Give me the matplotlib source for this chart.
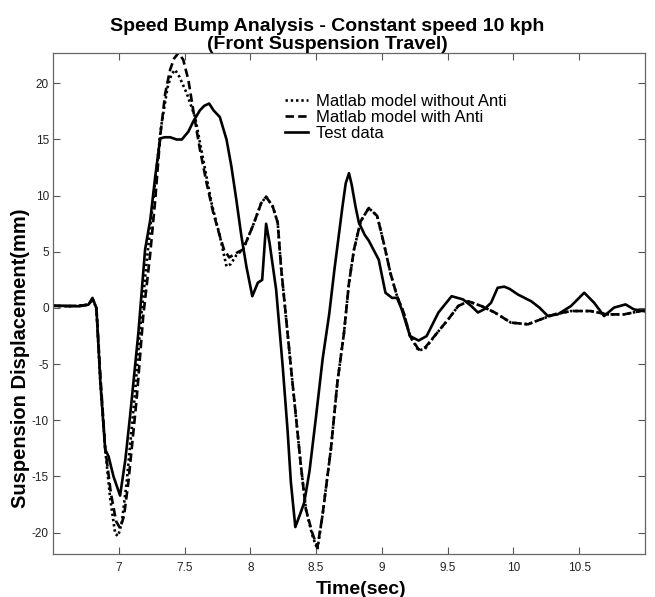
import matplotlib
matplotlib.use("Agg")
import matplotlib.pyplot as plt

# ---------------- data ----------------
t_noanti = [6.5, 6.6, 6.7, 6.77, 6.8, 6.83, 6.86, 6.897, 6.935, 6.973, 6.995, 7.023,
            7.06, 7.12, 7.17, 7.22, 7.27, 7.32, 7.37, 7.40, 7.428, 7.46, 7.517, 7.58,
            7.642, 7.705, 7.768, 7.819, 7.85, 7.894, 7.944, 8.019, 8.083, 8.12, 8.17,
            8.208, 8.233, 8.27, 8.308, 8.346, 8.384, 8.422, 8.47, 8.51, 8.548, 8.612,
            8.662, 8.712, 8.75, 8.788, 8.838, 8.9, 8.964, 9.014, 9.065, 9.115, 9.165,
            9.214, 9.279, 9.33, 9.40, 9.505, 9.58, 9.656, 9.757, 9.858, 9.98, 10.11,
            10.21, 10.31, 10.437, 10.587, 10.71, 10.84, 10.965, 11.0]
v_noanti = [0.2, 0.15, 0.2, 0.3, 0.8, 0.0, -6.6, -12.6, -17.0, -20.1, -20.3, -19.1,
            -15.5, -8.0, -0.8, 5.0, 10.5, 16.0, 19.6, 20.8, 21.2, 20.6, 19.1, 17.0,
            13.2, 9.35, 6.4, 3.7, 3.9, 4.7, 5.2, 7.3, 9.35, 9.9, 9.05,
            7.6, 3.7, -0.7, -5.2, -9.6, -14.0, -17.9, -20.2, -21.5, -18.5, -12.6,
            -6.6, -2.2, 2.25, 5.2, 7.7, 8.9, 8.2, 5.8, 3.1, 1.06, -0.4,
            -2.5, -3.8, -3.6, -2.5, -1.0, 0.17, 0.6, 0.17, -0.4, -1.3, -1.45,
            -1.0, -0.57, -0.27, -0.27, -0.57, -0.57, -0.27, -0.2]

t_anti = [6.5, 6.6, 6.7, 6.77, 6.8, 6.83, 6.86, 6.897, 6.94, 6.98, 7.01, 7.04,
          7.073, 7.136, 7.186, 7.237, 7.277, 7.315, 7.353, 7.39, 7.42, 7.453, 7.49,
          7.529, 7.566, 7.617, 7.668, 7.718, 7.768, 7.8, 7.84, 7.894, 7.944, 8.019,
          8.083, 8.12, 8.17, 8.208, 8.233, 8.27, 8.308, 8.346, 8.384, 8.422, 8.47,
          8.51, 8.548, 8.612, 8.662, 8.712, 8.75, 8.788, 8.838, 8.9, 8.964, 9.014,
          9.065, 9.115, 9.165, 9.214, 9.279, 9.33, 9.40, 9.505, 9.58, 9.656, 9.757,
          9.858, 9.98, 10.11, 10.21, 10.31, 10.437, 10.587, 10.71, 10.84, 10.965, 11.0]
v_anti = [0.2, 0.15, 0.2, 0.3, 0.8, 0.0, -6.0, -12.5, -16.5, -19.0, -19.6, -18.5,
          -15.5, -8.1, -0.7, 4.6, 9.6, 15.3, 19.1, 21.2, 22.2, 22.7, 22.1,
          20.3, 17.6, 14.1, 11.1, 8.5, 6.4, 5.2, 4.5, 4.9, 5.2, 7.3,
          9.35, 9.9, 9.05, 7.6, 3.7, -0.7, -5.2, -9.6, -14.0, -17.9, -20.0,
          -21.3, -18.5, -12.6, -6.6, -2.2, 2.25, 5.2, 7.7, 8.9, 8.2, 5.8,
          3.1, 1.06, -0.4, -2.5, -3.7, -3.5, -2.5, -1.0, 0.17, 0.6, 0.17,
          -0.4, -1.3, -1.45, -1.0, -0.57, -0.27, -0.27, -0.57, -0.57, -0.27, -0.2]

t_test = [6.5, 6.6, 6.7, 6.77, 6.8, 6.83, 6.86, 6.897, 6.922, 6.96, 7.01, 7.05,
          7.086, 7.149, 7.2, 7.24, 7.277, 7.315, 7.35, 7.39, 7.44, 7.479, 7.529,
          7.566, 7.617, 7.65, 7.687, 7.72, 7.768, 7.819, 7.856, 7.894, 7.932, 7.97,
          8.015, 8.057, 8.09, 8.12, 8.146, 8.196, 8.246, 8.284, 8.308, 8.342, 8.38,
          8.41, 8.45, 8.498, 8.55, 8.6, 8.64, 8.675, 8.70, 8.725, 8.75, 8.77, 8.80,
          8.825, 8.87, 8.90, 8.976, 9.027, 9.077, 9.115, 9.15, 9.214, 9.279, 9.34,
          9.43, 9.53, 9.617, 9.68, 9.73, 9.78, 9.83, 9.88, 9.93, 9.971, 10.034,
          10.135, 10.198, 10.26, 10.336, 10.437, 10.538, 10.613, 10.689, 10.764,
          10.852, 10.915, 11.0]
v_test = [0.2, 0.2, 0.15, 0.3, 0.9, 0.0, -6.6, -12.6, -13.2, -15.0, -16.7, -13.5,
          -9.6, -2.2, 5.2, 7.9, 11.7, 15.1, 15.2, 15.2, 15.0, 15.0, 15.7,
          16.6, 17.6, 18.0, 18.2, 17.6, 17.0, 15.0, 12.6, 9.6, 6.4, 3.7,
          1.05, 2.25, 2.5, 7.5, 5.8, 1.65, -5.2, -11.05, -15.5, -19.5, -18.3,
          -17.3, -14.5, -9.8, -4.5, -0.5, 3.5, 6.7, 9.0, 11.1, 12.0, 11.0, 9.0,
          7.6, 6.5, 6.0, 4.3, 1.36, 0.9, 0.9, -0.1, -2.5, -2.9, -2.5,
          -0.4, 1.05, 0.76, 0.17, -0.4, -0.1, 0.47, 1.8, 1.9, 1.7, 1.2,
          0.6, 0.03, -0.7, -0.57, 0.17, 1.36, 0.47, -0.72, 0.03,
          0.32, -0.12, -0.3]

series_labels = ["Matlab model without Anti", "Matlab model with Anti", "Test data"]
x_ticks = [7, 7.5, 8, 8.5, 9, 9.5, 10, 10.5]
x_ticklabels = ["7", "7.5", "8", "8.5", "9", "9.5", "10", "10.5"]
y_ticks = [-20, -15, -10, -5, 0, 5, 10, 15, 20]
y_ticklabels = ["-20", "-15", "-10", "-5", "0", "5", "10", "15", "20"]

# ---------------- figure ----------------
plt.rcParams['font.family'] = ['Liberation Sans', 'DejaVu Sans']

fig = plt.figure(figsize=(6.55, 5.97), dpi=100)
ax = fig.add_axes([53/655, 1 - 554/597, (645-53)/655, (554-53)/597])

lw = 1.9
l1, = ax.plot(t_noanti, v_noanti, color='black', lw=lw, linestyle=(0, (0.9, 1.1)),
              dash_capstyle='butt', label=series_labels[0])
l2, = ax.plot(t_anti, v_anti, color='black', lw=lw, linestyle=(0, (3.2, 1.6)),
              dash_capstyle='butt', label=series_labels[1])
l3, = ax.plot(t_test, v_test, color='black', lw=lw, linestyle='-',
              label=series_labels[2])

ax.set_xlim(6.5, 11.0)
ax.set_ylim(-21.9, 22.7)
ax.set_xticks(x_ticks)
ax.set_xticklabels(x_ticklabels)
ax.set_yticks(y_ticks)
ax.set_yticklabels(y_ticklabels)
ax.tick_params(direction='in', top=True, right=True, length=5, width=0.8,
               color='#555555', labelsize=8.5, labelcolor='#222222')
ax.tick_params(axis='x', pad=6)
ax.tick_params(axis='y', pad=3)
for s in ax.spines.values():
    s.set_color('#666666')
    s.set_linewidth(0.9)

fig.text(0.5, 1 - 18/597,
         "Speed Bump Analysis - Constant speed 10 kph\n(Front Suspension Travel)",
         ha='center', va='top', fontsize=14, fontweight='bold', linespacing=1.08)
ax.set_xlabel("Time(sec)", fontsize=14, fontweight='bold')
ax.xaxis.set_label_coords((361 - 53) / 592, -(594 - 554) / 501)
ax.xaxis.label.set_va('baseline')
ax.set_ylabel("Suspension Displacement(mm)", fontsize=14.5, fontweight='bold')
ax.yaxis.set_label_coords((30 - 53) / 592, (554 - 358) / 501)

leg = ax.legend(handles=[l1, l2, l3], loc='upper left', bbox_to_anchor=(0.392, 0.918),
                frameon=False, fontsize=12, handlelength=1.35, handletextpad=0.5,
                labelspacing=0.05, borderaxespad=0, borderpad=0)

fig.savefig("out.png", dpi=100)
